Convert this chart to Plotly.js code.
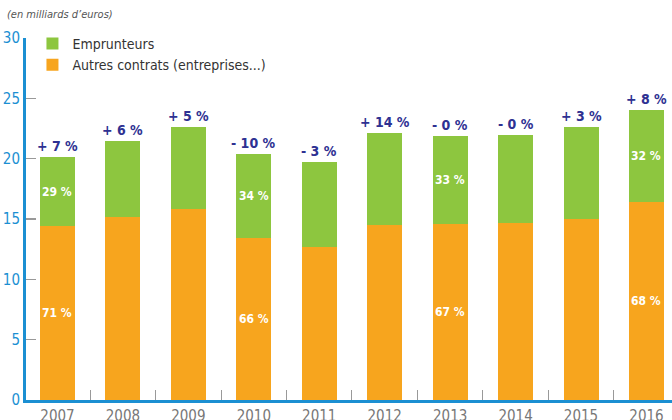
<!DOCTYPE html>
<html>
<head>
<meta charset="utf-8">
<script src="https://cdn.plot.ly/plotly-3.0.1.min.js"></script>
<style>html,body{margin:0;padding:0;background:#fff;}#chart{width:672px;height:420px;}</style>
</head>
<body>
<div id="chart"></div>
<script>
var years = ["2007","2008","2009","2010","2011","2012","2013","2014","2015","2016"];
var autresContrats = [14.4, 15.15, 15.8, 13.4, 12.65, 14.5, 14.57, 14.65, 14.98, 16.4];
var emprunteurs = [5.7, 6.35, 6.8, 6.96, 7.05, 7.6, 7.28, 7.29, 7.62, 7.6];
var growthLabels = ["+ 7 %","+ 6 %","+ 5 %","- 10 %","- 3 %","+ 14 %","- 0 %","- 0 %","+ 3 %","+ 8 %"];
var shareEmprunteurs = ["29 %","","","34 %","","","33 %","","","32 %"];
var shareAutres = ["71 %","","","66 %","","","67 %","","","68 %"];

var FONT = '"DejaVu Sans Condensed", "Liberation Sans Narrow", Roboto, sans-serif';
var GREEN = '#8dc63f', ORANGE = '#f7a51e', BLUE = '#1b8fd2', NAVY = '#2e3192';

var traces = [
  {type:'bar', name:'Autres contrats (entreprises...)', x:years, y:autresContrats,
   marker:{color:ORANGE}, hoverinfo:'skip'},
  {type:'bar', name:'Emprunteurs', x:years, y:emprunteurs,
   marker:{color:GREEN}, hoverinfo:'skip'}
];

var annotations = [];
annotations.push({xref:'paper', yref:'paper', x:-0.033, y:1.066, xanchor:'left', yanchor:'middle',
  text:'<i>(en milliards d’euros)</i>', showarrow:false,
  font:{family:FONT, size:11, color:'#555'}});
for (var i = 0; i < years.length; i++) {
  var total = autresContrats[i] + emprunteurs[i];
  annotations.push({x:i, y:total, xref:'x', yref:'y', xanchor:'center', yanchor:'bottom', yshift:1,
    text:'<b>'+growthLabels[i]+'</b>', showarrow:false,
    font:{family:FONT, size:14, color:NAVY}});
  if (shareEmprunteurs[i]) {
    annotations.push({x:i, y:autresContrats[i] + emprunteurs[i]/2, xref:'x', yref:'y',
      xanchor:'center', yanchor:'middle',
      text:'<b>'+shareEmprunteurs[i]+'</b>', showarrow:false,
      font:{family:FONT, size:12, color:'#fff'}});
  }
  if (shareAutres[i]) {
    annotations.push({x:i, y:autresContrats[i]/2, xref:'x', yref:'y',
      xanchor:'center', yanchor:'middle',
      text:'<b>'+shareAutres[i]+'</b>', showarrow:false,
      font:{family:FONT, size:12, color:'#fff'}});
  }
}

var layout = {
  width:672, height:420,
  margin:{l:26, r:0, t:38, b:20, pad:0},
  paper_bgcolor:'#fff', plot_bgcolor:'#fff',
  barmode:'stack', bargap:0.465,
  showlegend:true,
  legend:{x:0.01, xanchor:'left', y:1.028, yanchor:'top', traceorder:'reversed',
    font:{family:FONT, size:14, color:'#333'}, bgcolor:'rgba(0,0,0,0)', itemwidth:30},
  xaxis:{type:'category', range:[-0.481, 9.39], showline:true, linecolor:BLUE, linewidth:3,
    ticks:'inside', tickson:'boundaries', ticklen:10, tickcolor:'#999', tickwidth:1,
    showgrid:false, zeroline:false, fixedrange:true,
    tickfont:{family:FONT, size:15, color:'#777'}},
  yaxis:{range:[0,30], tickvals:[0,5,10,15,20,25,30], showline:true, linecolor:BLUE, linewidth:3,
    ticks:'inside', ticklen:10, tickcolor:'#999', tickwidth:1.2,
    showgrid:false, zeroline:false, fixedrange:true,
    tickfont:{family:FONT, size:15, color:BLUE}},
  annotations:annotations,
  font:{family:FONT}
};

Plotly.newPlot('chart', traces, layout, {displayModeBar:false, staticPlot:true});
</script>
</body>
</html>
